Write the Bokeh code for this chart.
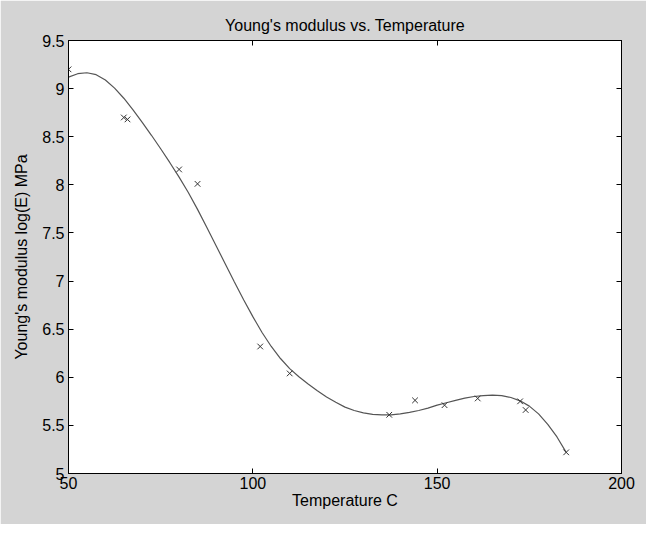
from bokeh.plotting import figure
from bokeh.models import Range1d, LinearAxis, FixedTicker, CustomJSTickFormatter
from bokeh.embed import file_html
from bokeh.resources import INLINE

# measured data points (temperature C, log(E) MPa)
temp_pts = [50, 65, 66, 80, 85, 102, 110, 137, 144, 152, 161, 172.5, 174, 185]
logE_pts = [9.20, 8.70, 8.68, 8.16, 8.01, 6.32, 6.04, 5.61, 5.76, 5.71, 5.78, 5.75, 5.66, 5.22]

# fitted curve
curve_x = [50, 52.5, 55, 57.5, 60, 62.5, 65, 67.5, 70, 72.5, 75, 77.5, 80, 82.5, 85, 87.5,
           90, 92.5, 95, 97.5, 100, 102.5, 105, 107.5, 110, 112.5, 115, 117.5, 120, 122.5,
           125, 127.5, 130, 132.5, 135, 137.5, 140, 142.5, 145, 147.5, 150, 152.5, 155,
           157.5, 160, 162.5, 165, 167.5, 170, 172.5, 175, 177.5, 180, 182.5, 185]
curve_y = [9.12, 9.155, 9.165, 9.145, 9.09, 9.005, 8.90, 8.78, 8.65, 8.515, 8.375, 8.23,
           8.08, 7.92, 7.745, 7.56, 7.37, 7.18, 6.99, 6.805, 6.63, 6.465, 6.32, 6.195,
           6.09, 6.005, 5.93, 5.86, 5.795, 5.74, 5.69, 5.655, 5.63, 5.615, 5.61, 5.61,
           5.62, 5.635, 5.655, 5.68, 5.71, 5.735, 5.76, 5.783, 5.80, 5.81, 5.815, 5.81,
           5.79, 5.755, 5.70, 5.62, 5.51, 5.38, 5.22]

x_ticks = [50, 100, 150, 200]
y_ticks = [5, 5.5, 6, 6.5, 7, 7.5, 8, 8.5, 9, 9.5]

title_text = "Young's modulus vs. Temperature"
x_label = "Temperature C"
y_label = "Young's modulus log(E) MPa"

FONT = "Liberation Sans"
FS = "16px"
GREY = "#d4d4d4"

p = figure(width=646, height=524, output_backend="svg", toolbar_location=None,
           x_range=Range1d(50, 200), y_range=Range1d(5, 9.5),
           min_border_left=68, min_border_right=25, min_border_top=40, min_border_bottom=51,
           x_axis_type=None, y_axis_type=None, title=title_text)

p.background_fill_color = "white"
p.border_fill_color = GREY
p.outline_line_color = "black"
p.outline_line_width = 1
p.grid.visible = False

p.title.align = "center"
p.title.text_font = FONT
p.title.text_font_size = FS
p.title.text_font_style = "normal"
p.title.text_color = "black"
p.title.standoff = 13

fmt = CustomJSTickFormatter(code="return tick.toString();")
blank = CustomJSTickFormatter(code="return '';")

def style(ax, labels=True):
    ax.axis_line_color = "black"
    ax.axis_line_width = 1
    ax.major_tick_in = 5
    ax.major_tick_out = 0
    ax.minor_tick_line_color = None
    ax.major_tick_line_color = "black"
    ax.major_label_text_font = FONT
    ax.major_label_text_font_size = FS
    ax.major_label_text_color = "black"
    ax.axis_label_text_font = FONT
    ax.axis_label_text_font_size = FS
    ax.axis_label_text_font_style = "normal"
    ax.axis_label_text_color = "black"
    if not labels:
        ax.major_label_standoff = 0
        ax.major_label_text_font_size = "1px"

xb = LinearAxis(ticker=FixedTicker(ticks=x_ticks), formatter=fmt, axis_label=x_label)
style(xb)
xb.major_label_standoff = 3
xb.axis_label_standoff = 0
p.add_layout(xb, "below")

yl = LinearAxis(ticker=FixedTicker(ticks=y_ticks), formatter=fmt, axis_label=y_label)
style(yl)
yl.major_label_standoff = 4
yl.axis_label_standoff = 9
p.add_layout(yl, "left")

xt = LinearAxis(ticker=FixedTicker(ticks=x_ticks), formatter=blank)
style(xt, labels=False)
p.add_layout(xt, "above")

yr = LinearAxis(ticker=FixedTicker(ticks=y_ticks), formatter=blank)
style(yr, labels=False)
p.add_layout(yr, "right")

p.line(curve_x, curve_y, line_color="#555555", line_width=1.2)
p.scatter(temp_pts, logE_pts, marker="x", size=8, line_color="#333333", line_width=1)

open("out.html", "w").write(file_html(p, INLINE))
